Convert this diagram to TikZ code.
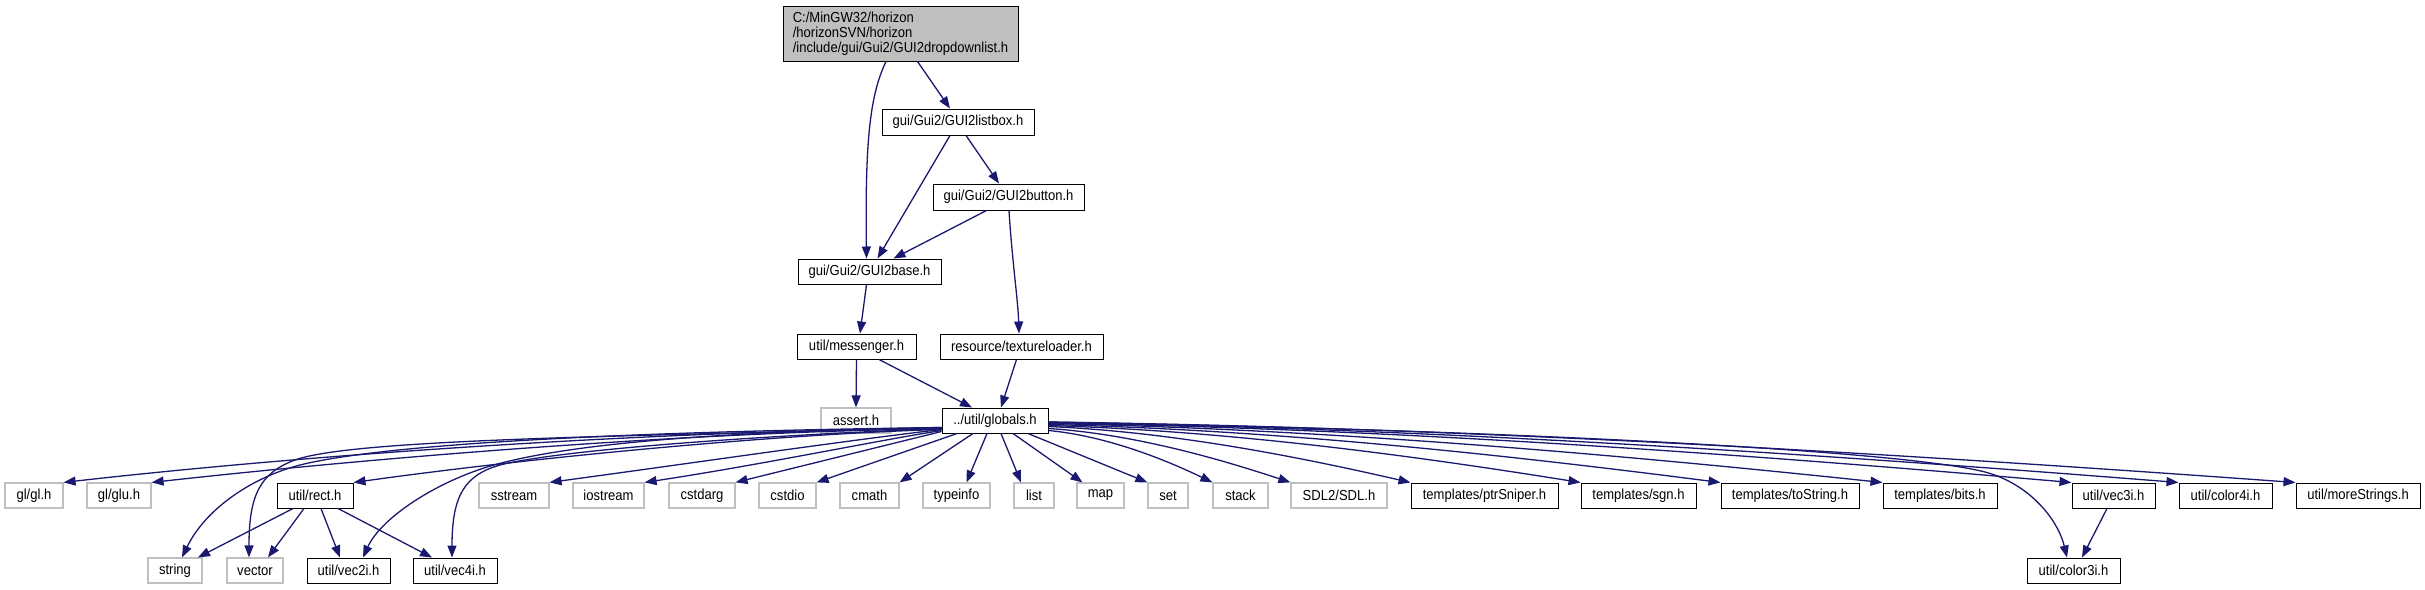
\documentclass[tikz,border=0pt]{standalone}
\usepackage{fontspec}
\setmainfont{Liberation Sans}[FakeStretch=0.9]
\usetikzlibrary{arrows.meta}
\definecolor{edgeblue}{HTML}{191970}
\definecolor{boxgray}{HTML}{BFBFBF}
\definecolor{topgray}{HTML}{BFBFBF}
\newcommand\nf{\fontsize{14.5}{15}\selectfont}
\tikzset{
  fbox/.style={draw=black, line width=1pt, fill=white, inner sep=0pt, minimum height=25pt, font=\nf},
  gbox/.style={fbox, draw=boxgray, line width=1.2pt},
  edge/.style={draw=edgeblue, line width=1.3pt, -{Triangle[length=12pt,width=9pt]}},
}
\begin{document}
\begin{tikzpicture}[x=1pt,y=-1pt]
\useasboundingbox[fill=white] (0,0) rectangle (2425,589);
% nodes
\node[fbox, fill=topgray, minimum width=235pt, minimum height=55pt, align=left] (top) at (900.5,33.5) {C:/MinGW32/horizon\\/horizonSVN/horizon\\/include/gui/Gui2/GUI2dropdownlist.h};
\node[fbox, minimum width=152pt, minimum height=26pt] (listbox) at (958,122) {gui/Gui2/GUI2listbox.h};
\node[fbox, minimum width=151pt, minimum height=26pt] (button) at (1008.5,197) {gui/Gui2/GUI2button.h};
\node[fbox, minimum width=143pt] (base) at (869.5,271.5) {gui/Gui2/GUI2base.h};
\node[fbox, minimum width=119pt] (messenger) at (856.5,346.5) {util/messenger.h};
\node[fbox, minimum width=163pt] (texture) at (1021.5,346.5) {resource/textureloader.h};
\node[gbox, minimum width=70pt] (assert) at (856,420.5) {assert.h};
\node[fbox, minimum width=106pt] (globals) at (995,420.5) {../util/globals.h};
% row 1
\node[gbox, minimum width=58pt] (glh) at (34,495.5) {gl/gl.h};
\node[gbox, minimum width=64pt] (gluh) at (119,495.5) {gl/glu.h};
\node[fbox, minimum width=76pt] (rect) at (315,495.5) {util/rect.h};
\node[gbox, minimum width=70pt] (sstream) at (514,495.5) {sstream};
\node[gbox, minimum width=71pt] (iostream) at (608.5,495.5) {iostream};
\node[gbox, minimum width=66pt] (cstdarg) at (702,495.5) {cstdarg};
\node[gbox, minimum width=57pt] (cstdio) at (787.5,495.5) {cstdio};
\node[gbox, minimum width=59pt] (cmath) at (869.5,495.5) {cmath};
\node[gbox, minimum width=67pt] (typeinfo) at (956.5,495.5) {typeinfo};
\node[gbox, minimum width=40pt] (list) at (1034,495.5) {list};
\node[gbox, minimum width=47pt] (map) at (1100.5,495.5) {map};
\node[gbox, minimum width=40pt] (set) at (1168,495.5) {set};
\node[gbox, minimum width=55pt] (stack) at (1240.5,495.5) {stack};
\node[gbox, minimum width=96pt] (sdl) at (1339,495.5) {SDL2/SDL.h};
\node[fbox, minimum width=147pt] (ptr) at (1484.5,495.5) {templates/ptrSniper.h};
\node[fbox, minimum width=115pt] (sgn) at (1638.5,495.5) {templates/sgn.h};
\node[fbox, minimum width=138pt] (tostr) at (1790,495.5) {templates/toString.h};
\node[fbox, minimum width=114pt] (bits) at (1940,495.5) {templates/bits.h};
\node[fbox, minimum width=83pt] (vec3i) at (2113.5,495.5) {util/vec3i.h};
\node[fbox, minimum width=93pt] (color4i) at (2225.5,495.5) {util/color4i.h};
\node[fbox, minimum width=124pt] (more) at (2358,495.5) {util/moreStrings.h};
% row 2
\node[gbox, minimum width=54pt] (string) at (175,570.5) {string};
\node[gbox, minimum width=56pt] (vector) at (255,570.5) {vector};
\node[fbox, minimum width=83pt] (vec2i) at (348.5,570.5) {util/vec2i.h};
\node[fbox, minimum width=84pt] (vec4i) at (455,570.5) {util/vec4i.h};
\node[fbox, minimum width=93pt] (color3i) at (2073.5,570.5) {util/color3i.h};
% upper edges
\draw[edge] ([xshift=-14.5pt]top.south) .. controls (870,95) and (865,140) .. ([xshift=-3pt]base.north);
\draw[edge] ([xshift=17pt]top.south) -- ([xshift=-8pt]listbox.north);
\draw[edge] ([xshift=-8pt]listbox.south) -- ([xshift=8pt]base.north);
\draw[edge] ([xshift=8pt]listbox.south) -- ([xshift=-9.5pt]button.north);
\draw[edge] ([xshift=-22pt]button.south) -- ([xshift=24pt]base.north);
\draw[edge] ([xshift=0.5pt]button.south) .. controls (1012,260) and (1018,300) .. ([xshift=-2.5pt]texture.north);
\draw[edge] ([xshift=-3pt]base.south) -- ([xshift=3.5pt]messenger.north);
\draw[edge] (messenger.south) -- (assert.north);
\draw[edge] ([xshift=22.5pt]messenger.south) -- ([xshift=-23pt]globals.north);
\draw[edge] ([xshift=-5pt]texture.south) -- ([xshift=6pt]globals.north);
% globals -> left
\draw[edge] ([yshift=-8pt]globals.west) .. controls (700,430) and (350,450) .. (glh.north east);
\draw[edge] ([yshift=-8pt]globals.west) .. controls (700,432) and (400,455) .. (gluh.north east);
\draw[edge] ([yshift=-7pt]globals.west) .. controls (600,432) and (380,445) .. (300,465) .. controls (250,478) and (205,510) .. ([xshift=7pt]string.north);
\draw[edge] ([yshift=-8pt]globals.west) .. controls (600,436) and (350,440) .. (295,460) .. controls (260,473) and (249,495) .. ([xshift=-6pt]vector.north);
\draw[edge] ([yshift=-9pt]globals.west) .. controls (800,433) and (550,455) .. (rect.north east);
\draw[edge] ([yshift=-7pt]globals.west) .. controls (700,432) and (560,445) .. (487,467) .. controls (430,485) and (380,520) .. ([xshift=14.5pt]vec2i.north);
\draw[edge] ([yshift=-8pt]globals.west) .. controls (750,436) and (560,450) .. (500,465) .. controls (465,475) and (452,495) .. ([xshift=-3pt]vec4i.north);
\draw[edge] ([yshift=-9pt]globals.west) .. controls (850,440) and (700,462) .. (sstream.north east);
\draw[edge] ([yshift=-10pt]globals.west) .. controls (880,440) and (760,465) .. (iostream.north east);
\draw[edge] ([yshift=-11pt]globals.west) -- (cstdarg.north east);
\draw[edge] ([xshift=-38pt]globals.south) -- (cstdio.north east);
\draw[edge] ([xshift=-22pt]globals.south) -- (cmath.north east);
\draw[edge] ([xshift=-8pt]globals.south) -- ([xshift=10pt]typeinfo.north);
% globals -> right
\draw[edge] ([xshift=6pt]globals.south) -- ([xshift=-13pt]list.north);
\draw[edge] ([xshift=18pt]globals.south) -- ([xshift=-18pt]map.north);
\draw[edge] ([xshift=33pt]globals.south) -- (set.north west);
\draw[edge] ([yshift=-10pt]globals.east) .. controls (1106,436) and (1164,459) .. (stack.north west);
\draw[edge] ([yshift=-8pt]globals.east) .. controls (1133,434) and (1218,458.5) .. (sdl.north west);
\draw[edge] ([yshift=-6pt]globals.east) .. controls (1175,432) and (1302,457.6) .. (ptr.north west);
\draw[edge] ([yshift=-5pt]globals.east) .. controls (1235,431) and (1421,457) .. (sgn.north west);
\draw[edge] ([yshift=-4pt]globals.east) .. controls (1284,430) and (1519,456.7) .. (tostr.north west);
\draw[edge] ([yshift=-3pt]globals.east) .. controls (1340,429.5) and (1632.5,456.2) .. (bits.north west);
\draw[edge] ([yshift=-2.5pt]globals.east) .. controls (1406,429) and (1765,456) .. (vec3i.north west);
\draw[edge] ([yshift=-2pt]globals.east) .. controls (1444,428.5) and (1840,455.8) .. (color4i.north west);
\draw[edge] ([yshift=-1.5pt]globals.east) .. controls (1485,428) and (1922,455.5) .. (more.north west);
\draw[edge] ([yshift=-1.5pt]globals.east) .. controls (1500,430) and (1900,450) .. (1985,472) .. controls (2030,484) and (2058,520) .. ([xshift=-6.5pt]color3i.north);
% rect -> children
\draw[edge] ([xshift=-22pt]rect.south) -- ([xshift=23pt]string.north);
\draw[edge] ([xshift=-11pt]rect.south) -- ([xshift=13pt]vector.north);
\draw[edge] ([xshift=6pt]rect.south) -- ([xshift=-8.5pt]vec2i.north);
\draw[edge] ([xshift=23pt]rect.south) -- ([xshift=-23pt]vec4i.north);
% vec3i -> color3i
\draw[edge] ([xshift=-6.5pt]vec3i.south) -- ([xshift=8.5pt]color3i.north);
\end{tikzpicture}
\end{document}
